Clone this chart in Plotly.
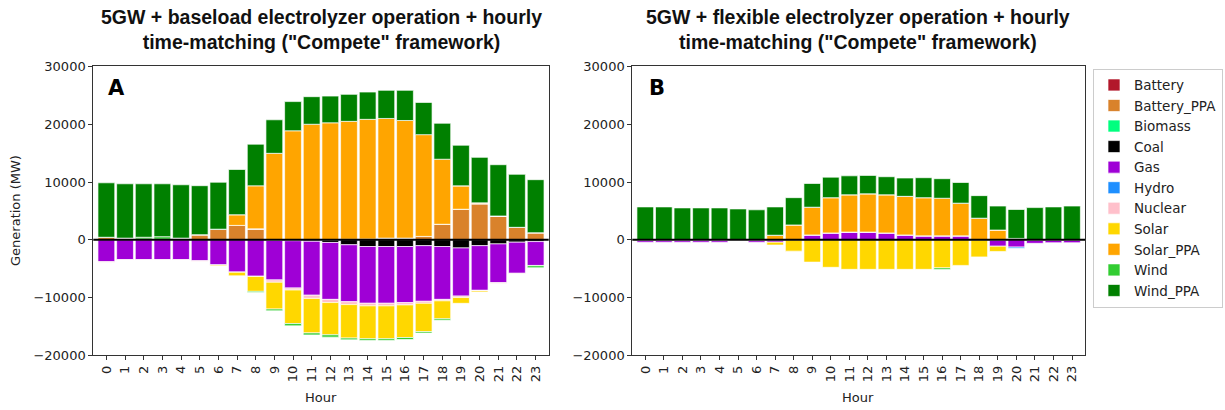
import plotly.graph_objects as go

hours = list(range(24))
techs = ["Battery", "Battery_PPA", "Biomass", "Coal", "Gas", "Hydro",
         "Nuclear", "Solar", "Solar_PPA", "Wind", "Wind_PPA"]
colors = {
    "Battery": "#b2182b", "Battery_PPA": "#d9822b", "Biomass": "#00ff7f",
    "Coal": "#000000", "Gas": "#9f00d6", "Hydro": "#1e8fff",
    "Nuclear": "#ffc0cb", "Solar": "#ffd700", "Solar_PPA": "#ffa500",
    "Wind": "#32cd32", "Wind_PPA": "#008000",
}

# Panel A: baseload operation (MW)
a_battery = [0] * 24
a_battery_ppa = [450, 300, 150, 100, 300, 900, 1850, 2500, 1900, 0, 0, 0,
                 0, 100, 150, 300, 300, 600, 2700, 5300, 6250, 4130, 2170, 1240]
a_biomass = [0] * 24
a_coal = [0, 0, 0, 0, 0, 0, 0, 0, 0, -100, -150, -250,
          -450, -850, -1150, -1150, -1150, -1000, -1150, -1400, -1000, -700, -400, -300]
a_gas = [-3780, -3430, -3430, -3430, -3430, -3630, -4330, -5570, -6290, -6830, -8180, -9330,
         -9850, -9850, -9820, -9820, -9710, -9630, -9150, -8330, -7730, -6700, -5380, -4130]
a_hydro = [0] * 24
a_nuclear = [-100, -50, -50, -50, -50, -50, -50, -50, -50, -400, -350, -550,
             -550, -500, -450, -450, -400, -350, -250, -250, -100, -150, -100, -50]
a_solar = [0, 0, 0, 0, 0, 0, -150, -600, -2570, -4640, -5800, -5970,
           -5580, -5790, -5700, -5700, -5630, -4900, -3120, -1000, -200, 0, 0, 0]
a_solar_ppa = [0, 0, 0, 0, 0, 0, 0, 1850, 7450, 14970, 18870, 20000,
               20250, 20400, 20700, 20700, 20350, 17600, 11250, 4050, 150, 0, 0, 0]
a_wind = [0, 0, 300, 450, 0, 0, 0, 0, -200, -300, -400, -350,
          -400, -300, -300, -300, -350, -250, -250, 0, 0, 0, 0, -350]
a_wind_ppa = [9420, 9400, 9250, 9150, 9230, 8470, 8120, 7820, 7200, 5800, 5050, 4770,
              4620, 4670, 4720, 4870, 5220, 5570, 6220, 7020, 7870, 8870, 9170, 9170]

# Panel B: flexible operation (MW)
b_battery = [0] * 24
b_battery_ppa = [0] * 20 + [250, 0, 0, 0]
b_biomass = [0] * 24
b_coal = [0] * 24
b_gas = [-400, -400, -400, -400, -400, -150, -400, -400, 0, 850, 1200, 1350,
         1350, 1200, 850, 690, 690, 690, 0, -1100, -1250, -600, -500, -500]
b_hydro = [0] * 20 + [-200, 0, 0, 0]
b_nuclear = [0] * 24
b_solar = [0, 0, 0, 0, 0, 0, 0, -500, -1950, -3850, -4750, -5100,
           -5100, -5100, -5100, -5100, -4850, -4420, -2950, -900, 0, 0, 0, 0]
b_solar_ppa = [0, 0, 0, 0, 0, 0, 0, 800, 2580, 4800, 6100, 6450,
               6620, 6600, 6680, 6610, 6510, 5660, 3750, 1700, 0, 0, 0, 0]
b_wind = [0] * 16 + [-300] + [0] * 7
b_wind_ppa = [5700, 5700, 5530, 5530, 5530, 5350, 5200, 4900, 4720, 4100, 3550, 3280,
              3180, 3120, 3170, 3450, 3380, 3570, 3900, 4150, 5000, 5580, 5700, 5850]

panel_a = dict(zip(techs, [a_battery, a_battery_ppa, a_biomass, a_coal, a_gas, a_hydro,
                           a_nuclear, a_solar, a_solar_ppa, a_wind, a_wind_ppa]))
panel_b = dict(zip(techs, [b_battery, b_battery_ppa, b_biomass, b_coal, b_gas, b_hydro,
                           b_nuclear, b_solar, b_solar_ppa, b_wind, b_wind_ppa]))

title_a = "<b>5GW + baseload electrolyzer operation + hourly<br>time-matching (\"Compete\" framework)</b>"
title_b = "<b>5GW + flexible electrolyzer operation + hourly<br>time-matching (\"Compete\" framework)</b>"

W, H = 1225, 410
fig = go.Figure()

for data, xa, ya, show in [(panel_a, "x", "y", True), (panel_b, "x2", "y2", False)]:
    for t in techs:
        fig.add_trace(go.Bar(
            x=hours, y=data[t], name=t, legendgroup=t, showlegend=show,
            marker=dict(color=colors[t], line=dict(color="rgba(255,255,255,0.85)", width=0.8)),
            xaxis=xa, yaxis=ya,
        ))

tickfont = dict(family="DejaVu Sans", size=13, color="#222")
xcommon = dict(range=[-0.7, 23.7], tickmode="array", tickvals=hours,
               ticktext=[str(h) for h in hours], tickangle=-90, ticks="outside",
               ticklen=4, tickcolor="#333", showline=True, linecolor="#333",
               linewidth=1, mirror=True, showgrid=False, zeroline=False,
               tickfont=tickfont)
ycommon = dict(range=[-20000, 30000], tickvals=[-20000, -10000, 0, 10000, 20000, 30000],
               ticktext=["\u221220000", "\u221210000", "0", "10000", "20000", "30000"],
               ticks="outside", ticklen=4, tickcolor="#333", showline=True,
               linecolor="#333", linewidth=1, mirror=True, showgrid=False,
               zeroline=False, tickfont=tickfont)

ydom = [1 - 361.7 / H, 1 - 61.7 / H]
fig.update_layout(
    width=W, height=H, margin=dict(l=0, r=0, t=0, b=0),
    paper_bgcolor="white", plot_bgcolor="white",
    barmode="relative", bargap=0.1,
    xaxis=dict(domain=[93.3 / W, 548.7 / W], anchor="y", **xcommon),
    yaxis=dict(domain=ydom, anchor="x", **ycommon),
    xaxis2=dict(domain=[632.3 / W, 1085 / W], anchor="y2", **xcommon),
    yaxis2=dict(domain=ydom, anchor="x2", **ycommon),
    legend=dict(x=1093 / W, y=1 - 64 / H, xanchor="left", yanchor="top",
                bordercolor="#cccccc", borderwidth=1, bgcolor="white",
                font=dict(family="DejaVu Sans", size=13.5, color="#222"),
                traceorder="normal", itemclick=False),
    font=dict(family="DejaVu Sans"),
    shapes=[
        dict(type="line", xref="x domain", yref="y", x0=0, x1=1, y0=0, y1=0,
             line=dict(color="black", width=2), layer="above"),
        dict(type="line", xref="x2 domain", yref="y2", x0=0, x1=1, y0=0, y1=0,
             line=dict(color="black", width=2), layer="above"),
    ],
    annotations=[
        dict(text=title_a, x=321 / W, y=1 - 23 / H, xref="paper", yref="paper",
             showarrow=False, xanchor="center", yanchor="middle",
             font=dict(family="Liberation Sans", size=19.5, color="#111")),
        dict(text=title_b, x=858 / W, y=1 - 23 / H, xref="paper", yref="paper",
             showarrow=False, xanchor="center", yanchor="middle",
             font=dict(family="Liberation Sans", size=19.5, color="#111")),
        dict(text="<b>A</b>", x=117 / W, y=1 - 84 / H, xref="paper", yref="paper",
             showarrow=False, xanchor="center", yanchor="middle",
             font=dict(family="DejaVu Sans", size=21, color="black")),
        dict(text="<b>B</b>", x=657 / W, y=1 - 84 / H, xref="paper", yref="paper",
             showarrow=False, xanchor="center", yanchor="middle",
             font=dict(family="DejaVu Sans", size=21, color="black")),
        dict(text="Hour", x=321 / W, y=1 - 405 / H, xref="paper", yref="paper",
             showarrow=False, xanchor="center", yanchor="middle",
             font=dict(family="DejaVu Sans", size=13, color="#222")),
        dict(text="Hour", x=858 / W, y=1 - 405 / H, xref="paper", yref="paper",
             showarrow=False, xanchor="center", yanchor="middle",
             font=dict(family="DejaVu Sans", size=13, color="#222")),
        dict(text="Generation (MW)", x=16 / W, y=1 - 211.7 / H, xref="paper", yref="paper",
             showarrow=False, xanchor="center", yanchor="middle", textangle=-90,
             font=dict(family="DejaVu Sans", size=13, color="#222")),
    ],
)

fig.write_html("out.html")
